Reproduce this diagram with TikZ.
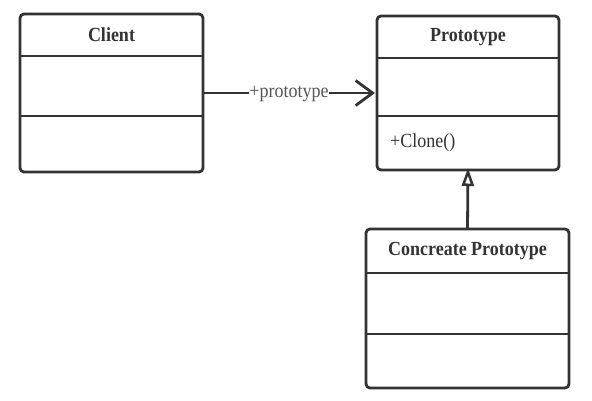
\documentclass[tikz,border=0pt]{standalone}
\usepackage{fontspec}
\setmainfont{Liberation Serif}[FakeStretch=0.9]
\usetikzlibrary{arrows.meta}
\definecolor{ink}{HTML}{333333}
\definecolor{labelgray}{HTML}{555555}
\begin{document}
\begin{tikzpicture}[x=1pt,y=-1pt,
  classbox/.style={draw=ink, line width=2.8pt, rounded corners=4pt, inner sep=0pt, outer sep=0pt, fill=white},
  divider/.style={draw=ink, line width=2.5pt},
  title/.style={font=\fontsize{20}{23}\selectfont\bfseries, text=ink, inner sep=0pt},
  member/.style={font=\fontsize{20}{23}\selectfont, text=ink, inner sep=0pt, anchor=west},
  assoc/.style={draw=ink, line width=2.8pt, -{Straight Barb[length=17pt,width=25pt,line width=2.8pt]}},
  inherit/.style={draw=ink, line width=2.8pt, -{Triangle[open,length=18pt,width=12pt,line width=2.5pt,fill=white]}},
  assoclabel/.style={font=\fontsize{20}{23}\selectfont, text=labelgray, fill=white, inner sep=0.5pt}
]
\useasboundingbox (0,0) rectangle (592,400);
\fill[white] (0,0) rectangle (592,400);

% Client
\node[classbox, minimum width=183pt, minimum height=158pt] (client) at (111.5,93) {};
\draw[divider] (20,56) -- (203,56);
\draw[divider] (20,116) -- (203,116);
\node[title] (clienttitle) at (111.5,35) {Client};

% Prototype
\node[classbox, minimum width=182pt, minimum height=154pt] (proto) at (468,93) {};
\draw[divider] (377,58) -- (559,58);
\draw[divider] (377,116) -- (559,116);
\node[title] (prototitle) at (468,37) {Prototype};
\node[member] (clone) at (390,143) {+Clone()};

% Concreate Prototype
\node[classbox, minimum width=203pt, minimum height=159pt] (concrete) at (467.5,308.5) {};
\draw[divider] (366,273) -- (569,273);
\draw[divider] (366,334) -- (569,334);
\node[title] (concretetitle) at (467.5,251) {Concreate Prototype};

% connectors
\draw[assoc] (client.east) -- node[assoclabel, yshift=-1pt] (assocl) {+prototype} ([xshift=-2pt]proto.west);
\draw[inherit] (concrete.north) -- ([yshift=2pt]proto.south);
\end{tikzpicture}
\end{document}
